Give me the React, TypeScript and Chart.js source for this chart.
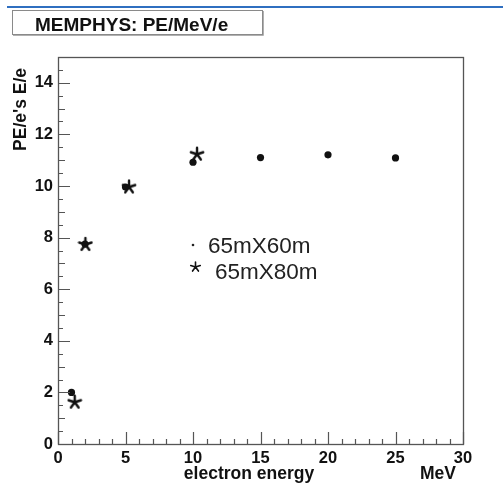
import React, { useEffect, useRef } from "react";
import { Chart, registerables } from "chart.js";

Chart.register(...registerables);

const TITLE = "MEMPHYS: PE/MeV/e";
const X_TITLE = "electron energy";
const X_UNIT = "MeV";
const Y_TITLE = "PE/e's E/e";
const LEGEND_LABELS = ["65mX60m", "65mX80m"];

const dotEnergy = [1, 2, 5, 10, 15, 20, 25];
const dotValues = [2.0, 7.75, 9.96, 10.92, 11.1, 11.21, 11.09];
const starEnergy = [1.24, 2.03, 5.26, 10.3];
const starValues = [1.64, 7.75, 9.98, 11.25];

const xTickLabels = [0, 5, 10, 15, 20, 25, 30];
const yTickLabels = [0, 2, 4, 6, 8, 10, 12, 14];

const X_MIN = 0;
const X_MAX = 30;
const Y_MIN = 0;
const Y_MAX = 15;

const FONT = "'Liberation Sans', Arial, Helvetica, sans-serif";
const INK = "#111111";
const FRAME = "#555555";

function drawAsterisk(ctx: CanvasRenderingContext2D, cx: number, cy: number, r: number, lw: number) {
  ctx.save();
  ctx.strokeStyle = INK;
  ctx.lineWidth = lw;
  ctx.lineCap = "round";
  ctx.beginPath();
  for (let i = 0; i < 5; i++) {
    const a = -Math.PI / 2 + (i * 2 * Math.PI) / 5;
    ctx.moveTo(cx, cy);
    ctx.lineTo(cx + r * Math.cos(a), cy + r * Math.sin(a));
  }
  ctx.stroke();
  ctx.restore();
}

function makeStar(): HTMLCanvasElement {
  const c = document.createElement("canvas");
  c.width = 16;
  c.height = 16;
  const ctx = c.getContext("2d")!;
  drawAsterisk(ctx, 8, 8.5, 6.5, 2.4);
  return c;
}

const decorPlugin = {
  id: "decor",
  afterDraw(chart: any) {
    const ctx: CanvasRenderingContext2D = chart.ctx;
    const { left, right, top, bottom } = chart.chartArea;
    const xs = chart.scales.x;
    const ys = chart.scales.y;
    ctx.save();

    // blue top rule
    ctx.fillStyle = "#2f6fc0";
    ctx.fillRect(7, 6, chart.width - 7, 2);

    // title box
    ctx.fillStyle = "#ffffff";
    ctx.fillRect(13, 11, 250, 24);
    ctx.strokeStyle = "#8a8a8a";
    ctx.lineWidth = 1;
    ctx.strokeRect(12.5, 10.5, 250, 24);
    ctx.strokeStyle = "#b0b0b0";
    ctx.beginPath();
    ctx.moveTo(263.5, 11);
    ctx.lineTo(263.5, 35.5);
    ctx.lineTo(13, 35.5);
    ctx.stroke();
    ctx.fillStyle = INK;
    ctx.font = `bold 19px ${FONT}`;
    ctx.textAlign = "left";
    ctx.textBaseline = "alphabetic";
    ctx.fillText(TITLE, 35, 31);

    // frame
    ctx.strokeStyle = FRAME;
    ctx.lineWidth = 1.3;
    ctx.strokeRect(Math.round(left) + 0.5, Math.round(top) + 0.5, Math.round(right - left), Math.round(bottom - top));

    // y ticks (inside, from left edge)
    ctx.strokeStyle = FRAME;
    ctx.lineWidth = 1.2;
    ctx.beginPath();
    for (let v = Y_MIN; v <= Y_MAX + 1e-9; v += 0.5) {
      const py = Math.round(ys.getPixelForValue(v)) + 0.5;
      let len = 5;
      if (Math.abs(v % 2) < 1e-9) len = 12;
      else if (Math.abs(v % 1) < 1e-9) len = 7;
      ctx.moveTo(left, py);
      ctx.lineTo(left + len, py);
    }
    // x ticks (inside, from bottom edge)
    for (let v = X_MIN; v <= X_MAX + 1e-9; v += 1) {
      const px = Math.round(xs.getPixelForValue(v)) + 0.5;
      const len = Math.abs(v % 5) < 1e-9 ? 12 : 5;
      ctx.moveTo(px, bottom);
      ctx.lineTo(px, bottom - len);
    }
    ctx.stroke();

    // axis titles
    ctx.fillStyle = INK;
    ctx.font = `bold 17.5px ${FONT}`;
    ctx.textAlign = "center";
    ctx.textBaseline = "alphabetic";
    ctx.fillText(X_TITLE, 249, 479);
    ctx.textAlign = "left";
    ctx.fillText(X_UNIT, 420, 479);
    ctx.save();
    ctx.translate(25.5, 68);
    ctx.rotate(-Math.PI / 2);
    ctx.textAlign = "right";
    ctx.fillText(Y_TITLE, 0, 0);
    ctx.restore();

    // legend
    ctx.fillStyle = "#222222";
    ctx.beginPath();
    ctx.arc(193, 245, 1.3, 0, Math.PI * 2);
    ctx.fill();
    drawAsterisk(ctx, 195.5, 267, 5, 1.6);
    ctx.font = `22.5px ${FONT}`;
    ctx.textAlign = "left";
    ctx.fillStyle = "#222222";
    ctx.fillText(LEGEND_LABELS[0], 208, 253);
    ctx.fillText(LEGEND_LABELS[1], 215, 279);

    ctx.restore();
  },
};

export default function App() {
  const ref = useRef<HTMLCanvasElement | null>(null);

  useEffect(() => {
    if (!ref.current) return;
    const star = makeStar();
    const chart = new Chart(ref.current, {
      type: "scatter",
      data: {
        datasets: [
          {
            label: LEGEND_LABELS[0],
            data: dotEnergy.map((x, i) => ({ x, y: dotValues[i] })),
            pointStyle: "circle",
            pointRadius: 3.6,
            backgroundColor: INK,
            borderColor: INK,
            borderWidth: 0,
          },
          {
            label: LEGEND_LABELS[1],
            data: starEnergy.map((x, i) => ({ x, y: starValues[i] })),
            pointStyle: star as any,
            pointRadius: 7,
            backgroundColor: INK,
            borderColor: INK,
          },
        ],
      },
      options: {
        animation: false,
        responsive: false,
        events: [],
        layout: { padding: { top: 57, right: 40, left: 0, bottom: 0 } },
        plugins: { legend: { display: false }, tooltip: { enabled: false }, title: { display: false } },
        scales: {
          x: {
            type: "linear",
            min: X_MIN,
            max: X_MAX,
            grid: { display: false, drawTicks: false },
            border: { display: false },
            afterBuildTicks: (s: any) => {
              s.ticks = xTickLabels.map((v) => ({ value: v }));
            },
            afterFit: (s: any) => {
              s.height = 44;
            },
            ticks: {
              padding: 5,
              color: INK,
              font: { family: FONT, size: 16.5, weight: "bold" },
              maxRotation: 0,
              autoSkip: false,
            },
          },
          y: {
            type: "linear",
            min: Y_MIN,
            max: Y_MAX,
            grid: { display: false, drawTicks: false },
            border: { display: false },
            afterBuildTicks: (s: any) => {
              s.ticks = yTickLabels.map((v) => ({ value: v }));
            },
            afterFit: (s: any) => {
              s.width = 58;
            },
            ticks: {
              padding: 5,
              color: INK,
              font: { family: FONT, size: 16.5, weight: "bold" },
              autoSkip: false,
            },
          },
        },
      },
      plugins: [decorPlugin],
    });
    return () => chart.destroy();
  }, []);

  return (
    <div style={{ position: "absolute", left: 0, top: 0, width: 503, height: 488, background: "#fff" }}>
      <canvas ref={ref} width={503} height={488} style={{ width: 503, height: 488, display: "block" }} />
    </div>
  );
}
